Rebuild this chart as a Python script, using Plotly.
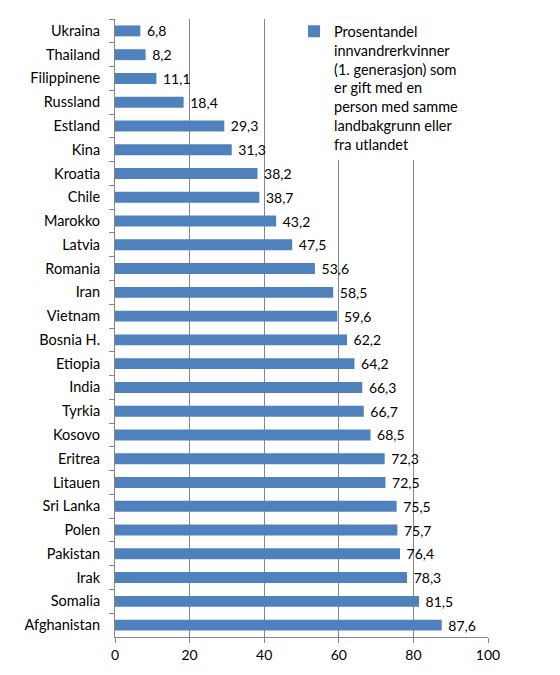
import plotly.graph_objects as go

# countries, top to bottom as in the chart
countries = ["Ukraina", "Thailand", "Filippinene", "Russland", "Estland", "Kina",
             "Kroatia", "Chile", "Marokko", "Latvia", "Romania", "Iran", "Vietnam",
             "Bosnia H.", "Etiopia", "India", "Tyrkia", "Kosovo", "Eritrea",
             "Litauen", "Sri Lanka", "Polen", "Pakistan", "Irak", "Somalia",
             "Afghanistan"]
share = [6.8, 8.2, 11.1, 18.4, 29.3, 31.3, 38.2, 38.7, 43.2, 47.5, 53.6, 58.5,
         59.6, 62.2, 64.2, 66.3, 66.7, 68.5, 72.3, 72.5, 75.5, 75.7, 76.4, 78.3,
         81.5, 87.6]
x_ticks = [0, 20, 40, 60, 80, 100]
series_name = ("Prosentandel<br>innvandrerkvinner<br>(1. generasjon) som<br>"
               "er gift med en<br>person med samme<br>landbakgrunn eller<br>fra utlandet")

font = "Lato, Open Sans, sans-serif"
grey = "#868686"

fig = go.Figure()
fig.add_trace(go.Bar(
    x=share, y=countries,
    orientation="h",
    name=series_name,
    marker=dict(color="#4F81BD", line=dict(width=0)),
    width=0.46,
    text=[" " + f"{v:.1f}".replace(".", ",") for v in share],
    textposition="outside",
    constraintext="none",
    textfont=dict(size=14, color="black", family=font),
    cliponaxis=False,
    showlegend=True,
))

# page body adds 8px offset, so figure is 8px smaller
fig.update_layout(
    width=552, height=667,
    margin=dict(l=107, r=72, t=7, b=38),
    plot_bgcolor="white",
    paper_bgcolor="white",
    font=dict(family=font, size=14, color="black"),
    legend=dict(
        x=0.48, y=1.006, xanchor="left", yanchor="top",
        valign="top",
        bgcolor="white",
        font=dict(size=14.5, family=font),
        tracegroupgap=0,
    ),
    xaxis=dict(
        range=[0, 100], tickvals=x_ticks,
        showgrid=True, gridcolor=grey, gridwidth=1,
        showline=True, linecolor=grey,
        ticks="outside", ticklen=5, tickcolor=grey,
        zeroline=False,
        automargin=False,
        tickfont=dict(size=14),
    ),
    yaxis=dict(
        autorange="reversed",
        showline=True, linecolor=grey,
        ticks="outside", ticklen=5, tickcolor=grey,
        tickson="boundaries",
        ticklabelstandoff=11,
        showgrid=False,
        automargin=False,
        tickfont=dict(size=14.5),
    ),
)

fig.write_html("out.html")
